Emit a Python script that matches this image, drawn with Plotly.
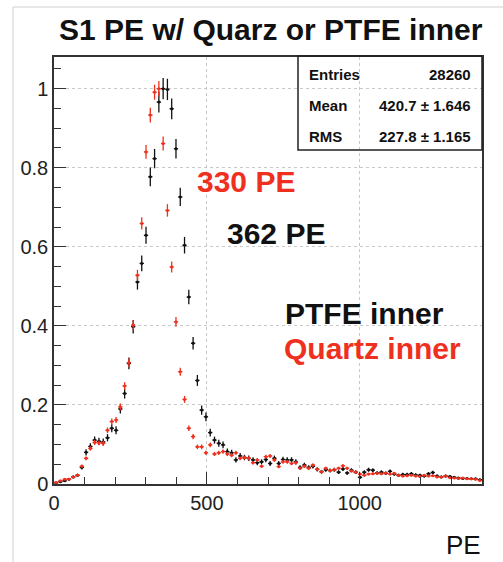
import plotly.graph_objects as go
import numpy as np

# ---------------- data ----------------
BIN_WIDTH = 14
bin_centers = [7 + BIN_WIDTH * k for k in range(100)]

ptfe_vals = [
    0.003, 0.006, 0.008, 0.012, 0.018, 0.022, 0.042, 0.080, 0.095, 0.111,
    0.108, 0.106, 0.117, 0.141, 0.136, 0.190, 0.229, 0.305, 0.398, 0.511,
    0.558, 0.629, 0.777, 0.823, 0.966, 1.000, 0.998, 0.949, 0.848, 0.726,
    0.604, 0.473, 0.356, 0.262, 0.187, 0.170, 0.130, 0.111, 0.103, 0.099,
    0.082, 0.079, 0.061, 0.071, 0.067, 0.065, 0.061, 0.054, 0.056, 0.062,
    0.052, 0.065, 0.052, 0.062, 0.061, 0.061, 0.056, 0.042, 0.048, 0.042,
    0.045, 0.037, 0.031, 0.036, 0.034, 0.036, 0.030, 0.038, 0.028, 0.035,
    0.030, 0.017, 0.030, 0.036, 0.035, 0.028, 0.030, 0.027, 0.032, 0.025,
    0.022, 0.024, 0.024, 0.026, 0.023, 0.022, 0.020, 0.026, 0.029, 0.020,
    0.018, 0.020, 0.019, 0.017, 0.015, 0.014, 0.014, 0.013, 0.013, 0.011,
]

quartz_vals = [
    0.004, 0.008, 0.012, 0.012, 0.018, 0.022, 0.045, 0.065, 0.090, 0.105,
    0.104, 0.103, 0.136, 0.158, 0.162, 0.195, 0.248, 0.307, 0.402, 0.528,
    0.659, 0.840, 0.933, 0.991, 1.000, 0.861, 0.692, 0.549, 0.410, 0.284,
    0.214, 0.141, 0.120, 0.094, 0.094, 0.079, 0.099, 0.076, 0.079, 0.082,
    0.076, 0.073, 0.079, 0.065, 0.067, 0.065, 0.054, 0.061, 0.045, 0.069,
    0.071, 0.061, 0.044, 0.056, 0.056, 0.052, 0.054, 0.040, 0.045, 0.040,
    0.048, 0.037, 0.031, 0.040, 0.034, 0.036, 0.040, 0.046, 0.040, 0.033,
    0.030, 0.025, 0.022, 0.025, 0.026, 0.027, 0.026, 0.028, 0.025, 0.027,
    0.022, 0.020, 0.021, 0.022, 0.020, 0.019, 0.022, 0.020, 0.021, 0.018,
    0.018, 0.020, 0.016, 0.015, 0.014, 0.015, 0.013, 0.013, 0.012, 0.009,
]

# relative statistical error at the peak (errors scale as sqrt of counts)
PTFE_PEAK_ERR = 0.027
QUARTZ_PEAK_ERR = 0.019

x_tick_vals = [0, 500, 1000]
y_tick_vals = [0, 0.2, 0.4, 0.6, 0.8, 1]

title_text = "S1 PE w/ Quarz or PTFE inner"
x_title = "PE"
stats_labels = ["Entries", "Mean", "RMS"]
stats_values = ["28260", "420.7 ± 1.646", "227.8 ± 1.165"]
annot_texts = ["330 PE", "362 PE", "PTFE inner", "Quartz inner"]

RED = "#f0301e"
BLACK = "#111111"
FONT = "Liberation Sans, Arial, Helvetica, sans-serif"

# ---------------- figure ----------------
fig = go.Figure()

def add_hist(vals, peak_err, color):
    v = np.array(vals)
    err = peak_err * np.sqrt(v)
    fig.add_trace(go.Scatter(
        x=bin_centers, y=vals, mode="markers",
        marker=dict(color=color, size=3),
        error_y=dict(type="data", array=err, color=color, thickness=1.3, width=0),
        error_x=dict(type="constant", value=BIN_WIDTH / 2, color=color, thickness=1.3, width=0),
        showlegend=False, hoverinfo="x+y",
    ))

add_hist(ptfe_vals, PTFE_PEAK_ERR, BLACK)
add_hist(quartz_vals, QUARTZ_PEAK_ERR, RED)

L, R, T, B = 54, 21, 57, 78
W, H = 503, 562
pw, ph = W - L - R, H - T - B

def px(x):
    return (x - L) / pw

def py(y):
    return (H - B - y) / ph

fig.update_layout(
    width=W, height=H,
    margin=dict(l=L, r=R, t=T, b=B),
    paper_bgcolor="white", plot_bgcolor="white",
    font=dict(family=FONT, color=BLACK),
    showlegend=False,
)

fig.update_xaxes(
    range=[0, 1400], tickvals=x_tick_vals,
    tickfont=dict(size=20, family=FONT, color="#222"),
    ticks="inside", ticklen=12, tickcolor="#333", tickwidth=1,
    minor=dict(dtick=100, ticks="inside", ticklen=7, tickcolor="#333", showgrid=False),
    showgrid=True, gridcolor="#c8c8c8", griddash="dot", gridwidth=1,
    showline=True, linecolor="#333", linewidth=1.5, mirror=True,
    zeroline=False,
)
fig.update_yaxes(
    range=[0, 1.08], tickvals=y_tick_vals,
    tickfont=dict(size=20, family=FONT, color="#222"),
    ticks="inside", ticklen=12, tickcolor="#333", tickwidth=1,
    minor=dict(dtick=0.05, ticks="inside", ticklen=7, tickcolor="#333", showgrid=False),
    showgrid=True, gridcolor="#c8c8c8", griddash="dot", gridwidth=1,
    showline=True, linecolor="#333", linewidth=1.5, mirror=True,
    zeroline=False,
)

# outer screenshot frame lines
fig.add_shape(type="line", xref="paper", yref="paper",
              x0=px(13), x1=px(503), y0=py(7), y1=py(7),
              line=dict(color="#d0d0d0", width=1))
fig.add_shape(type="line", xref="paper", yref="paper",
              x0=px(13), x1=px(13), y0=py(7), y1=py(562),
              line=dict(color="#d0d0d0", width=1))

# stats box (transparent)
fig.add_shape(type="rect", xref="paper", yref="paper",
              x0=px(298), x1=px(482), y0=py(150), y1=py(56),
              line=dict(color="#222", width=1.5), fillcolor="rgba(0,0,0,0)")

anns = []
anns.append(dict(text="<b>" + title_text + "</b>", x=px(270.5), y=py(30),
                 xanchor="center", yanchor="middle",
                 font=dict(size=30, color=BLACK, family=FONT)))
anns.append(dict(text=x_title, x=px(483), y=py(545), xanchor="right", yanchor="middle",
                 font=dict(size=26, color=BLACK, family=FONT)))
row_y = [74, 105, 136]
for lab, val, yy in zip(stats_labels, stats_values, row_y):
    anns.append(dict(text="<b>" + lab + "</b>", x=px(307), y=py(yy), xanchor="left",
                     yanchor="middle", font=dict(size=15, color=BLACK, family=FONT)))
    anns.append(dict(text="<b>" + val + "</b>", x=px(473), y=py(yy), xanchor="right",
                     yanchor="middle", font=dict(size=15, color=BLACK, family=FONT)))

annot_pos = [(195, 181), (225, 233), (283, 313), (282, 348)]
annot_colors = [RED, BLACK, BLACK, RED]
for t, (ax, ay), c in zip(annot_texts, annot_pos, annot_colors):
    anns.append(dict(text="<b>" + t + "</b>", x=px(ax), y=py(ay), xanchor="left",
                     yanchor="middle", font=dict(size=30, color=c, family=FONT)))

for a in anns:
    a.update(xref="paper", yref="paper", showarrow=False)
fig.update_layout(annotations=anns)

fig.write_html("out.html")
